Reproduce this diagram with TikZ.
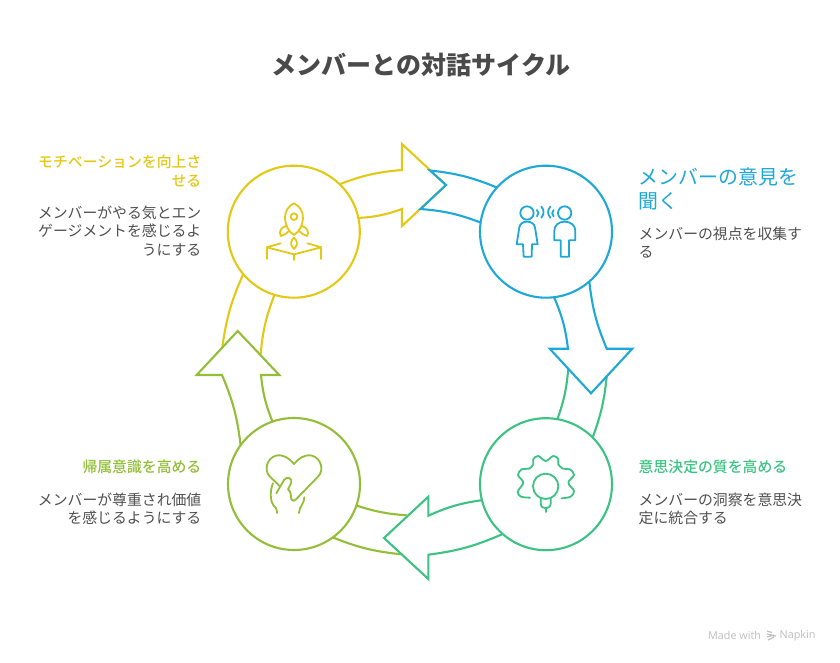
\documentclass[tikz,border=0pt]{standalone}
\usepackage{fontspec}
\setmainfont{Noto Sans CJK JP}
\newfontfamily\medfont{Noto Sans CJK JP Medium}
\newfontfamily\wmfont{Open Sans}
\definecolor{cyel}{HTML}{E3C916}
\definecolor{cblu}{HTML}{1EA8D8}
\definecolor{cgrn}{HTML}{3CC383}
\definecolor{coli}{HTML}{92BE38}
\definecolor{ctxt}{HTML}{4A4A4A}
\definecolor{cbody}{HTML}{505050}
\tikzset{
  hub/.style={circle,draw=#1,line width=2.1pt,minimum size=132pt,inner sep=0pt,outer sep=0pt,fill=white},
  flow/.style={draw=#1,line width=2.1pt,line join=miter},
  ico/.style={draw=#1,line width=1.8pt,line cap=round,line join=round},
  arc/.style={bend left=#1},
  arc/.default=9,
  bodyr/.style={anchor=north east,align=right,text=cbody,inner sep=0pt,font=\fontsize{14.85}{18.7}\selectfont},
  bodyl/.style={anchor=north west,align=left,text=cbody,inner sep=0pt,font=\fontsize{14.85}{18.7}\selectfont},
  headr/.style={anchor=north east,align=right,text=#1,inner sep=0pt,font=\medfont\fontsize{14.85}{18.7}\selectfont},
  headl/.style={anchor=north west,align=left,text=#1,inner sep=0pt,font=\medfont\fontsize{14.85}{18.7}\selectfont},
  icoscale/.style={x=0.3333pt,y=-0.3333pt},
}
\begin{document}
\begin{tikzpicture}[x=1pt,y=-1pt]
\useasboundingbox[fill=white] (0,0) rectangle (840,663);
\node[anchor=center,inner sep=0pt,text=ctxt,font=\fontsize{25}{30}\selectfont\bfseries] (title) at (421,65) {メンバーとの対話サイクル};

% hubs
\node[hub=cyel] (yel) at (293.8,231.7) {};
\node[hub=cblu] (blu) at (546,231.7) {};
\node[hub=cgrn] (grn) at (546,484.2) {};
\node[hub=coli] (oli) at (294,484) {};

\coordinate (yt1) at (222.3,347.3); \coordinate (yt2) at (260.7,354);
\coordinate (bt1) at (430,170.5); \coordinate (bt2) at (420.5,209); \coordinate (btip) at (446,185);
\coordinate (gt1) at (568.3,368.3); \coordinate (gt2) at (606.7,376.7);
\coordinate (ot1) at (406.7,515.3); \coordinate (ot2) at (401.7,554.3);

\draw[flow=cyel] (yt1) to[arc=8] (yel.220);
\draw[flow=cyel] (yt2) to[arc=8] (yel.253.5);
\draw[flow=cgrn] (gt1) to[arc=7] (grn.80);
\draw[flow=cgrn] (gt2) to[arc=7] (grn.45.5);
\draw[flow=coli] (ot1) to[arc=7] (oli.341.5);
\draw[flow=coli] (ot2) to[arc=8] (oli.306.4);

% heads
\draw[flow=cyel] (yel.46.5) to[arc=8] (402,170) -- (402,144) -- (446,185) -- (402,226) -- (402,209) to[arc=8] (yel.12);
\draw[flow=cgrn] (grn.194.8) to[arc=-8] (428.3,515.7) -- (428.3,496.7) -- (384,538) -- (428.3,579) -- (428.3,554.7) to[arc=-8] (grn.229);
\draw[flow=coli] (oli.144) to[arc=-8] (222,375) -- (196.7,375) -- (237.7,331) -- (279.3,375) -- (261,375) to[arc=-8] (oli.109);
\draw[flow=cblu] (blu.311.3) to[arc=-8] (606.7,348.7) -- (632.3,348.7) -- (591,393.3) -- (549.7,348.7) -- (568,348.7) to[arc=-8] (blu.277);
\draw[flow=cblu] (blu.138) to[arc=-8] (bt1) -- (btip) -- (bt2) to[arc=8] (blu.172.2);

% rocket icon
\begin{scope}[shift={(210,130)},icoscale,ico=cyel]
\draw (252,220) .. controls (235,228) and (224,245) .. (225,265) .. controls (226,285) and (235,305) .. (252,315) .. controls (269,305) and (278,285) .. (279,265) .. controls (280,245) and (269,228) .. (252,220) -- cycle;
\draw (252,260) circle[radius=10];
\draw (228,288) .. controls (212,292) and (205,308) .. (213,318) .. controls (222,316) and (230,310) .. (236,304);
\draw (276,288) .. controls (292,292) and (299,308) .. (291,318) .. controls (282,316) and (274,310) .. (268,304);
\draw (252,323) .. controls (243,330) and (238,345) .. (252,357) .. controls (266,345) and (261,330) .. (252,323) -- cycle;
\draw (212,340) -- (170,352) -- (252,373) -- (334,352) -- (292,340);
\draw (170,352) -- (170,387);
\draw (334,352) -- (334,387);
\draw (252,373) -- (252,390);
\end{scope}

% people icon
\begin{scope}[shift={(400,130)},icoscale,ico=cblu]
\draw (381,249) circle[radius=20];
\draw (494,249) circle[radius=20];
\draw (381,275) .. controls (368,275) and (360,282) .. (358,292) -- (350,343) -- (369,343) -- (371,380) -- (395,380) -- (396,343) -- (413,343) -- (405,292) .. controls (403,282) and (394,275) .. (381,275) -- cycle;
\draw (494,275) .. controls (475,275) and (463,287) .. (463,302) -- (463,331) -- (482,331) -- (482,380) -- (507,380) -- (507,331) -- (526,331) -- (526,302) .. controls (526,287) and (513,275) .. (494,275) -- cycle;
\draw (411,240) .. controls (417,246) and (417,252) .. (411,259);
\draw (424,230) .. controls (433,241) and (433,252) .. (424,263);
\draw (461,240) .. controls (455,246) and (455,252) .. (461,259);
\draw (451,230) .. controls (442,241) and (442,252) .. (451,263);
\end{scope}

% gear-bulb icon
\begin{scope}[shift={(505,445)},icoscale,ico=cgrn]
\draw plot[smooth,tension=0.55] coordinates {(75,158) (48,155) (38,140) (55,113) (39,90) (50,73) (72,71) (85,58) (85,42) (100,33) (122,48) (145,33) (160,42) (160,58) (174,71) (195,73) (207,90) (190,113) (207,138) (197,155) (170,160)};
\draw (122,124) circle[radius=38];
\draw (107,160) -- (107,175) .. controls (107,185) and (115,190) .. (122,190) .. controls (129,190) and (137,185) .. (137,175) -- (137,160);
\draw (122,190) -- (122,201);
\end{scope}

% heart-hand icon
\begin{scope}[shift={(190,330)},icoscale,ico=coli]
\draw (268,467) -- (238,438) .. controls (222,420) and (230,385) .. (258,377) .. controls (280,372) and (298,385) .. (312,402) .. controls (326,385) and (344,372) .. (366,377) .. controls (394,385) and (402,420) .. (386,438) -- (318,508) .. controls (314,514) and (308,514) .. (304,508);
\draw (259,490) -- (282,450) .. controls (290,438) and (308,444) .. (304,458) -- (294,478) .. controls (304,486) and (302,496) .. (304,508);
\draw (249,460) .. controls (240,480) and (240,512) .. (250,525) .. controls (256,532) and (261,535) .. (261,549);
\draw (343,502) .. controls (344,520) and (327,530) .. (327,549);
\end{scope}

% texts
\node[headr=cyel] (h1) at (201.5,155) {モチベーションを向上さ\\せる};
\node[bodyr] (b1) at (201.5,205.5) {メンバーがやる気とエン\\ゲージメントを感じるよ\\うにする};
\node[anchor=north west,align=left,inner sep=0pt,text=cblu,font=\fontsize{19.9}{23.5}\selectfont] (h2) at (638.5,168) {メンバーの意見を\\聞く};
\node[bodyl] (b2) at (638.5,226.5) {メンバーの視点を収集す\\る};
\node[headl=cgrn] (h3) at (638.5,460) {意思決定の質を高める};
\node[bodyl] (b3) at (638.5,492.5) {メンバーの洞察を意思決\\定に統合する};
\node[headr=coli] (h4) at (201.5,460) {帰属意識を高める};
\node[bodyr] (b4) at (201.5,492.5) {メンバーが尊重され価値\\を感じるようにする};

% watermark
\node[anchor=west,inner sep=0pt,text=black!25,font=\wmfont\fontsize{10.8}{12}\selectfont] (wm1) at (708,635.5) {Made with};
\node[anchor=west,inner sep=0pt,text=black!25,font=\wmfont\fontsize{10.8}{12}\selectfont] (wm2) at (779.5,635.5) {Napkin};
\draw[black!25,line width=1.2pt] (767,631) -- (772,632.5) (767,634) -- (776,636) (767,637) -- (774,635) (768,640) -- (774,637);
\end{tikzpicture}
\end{document}
